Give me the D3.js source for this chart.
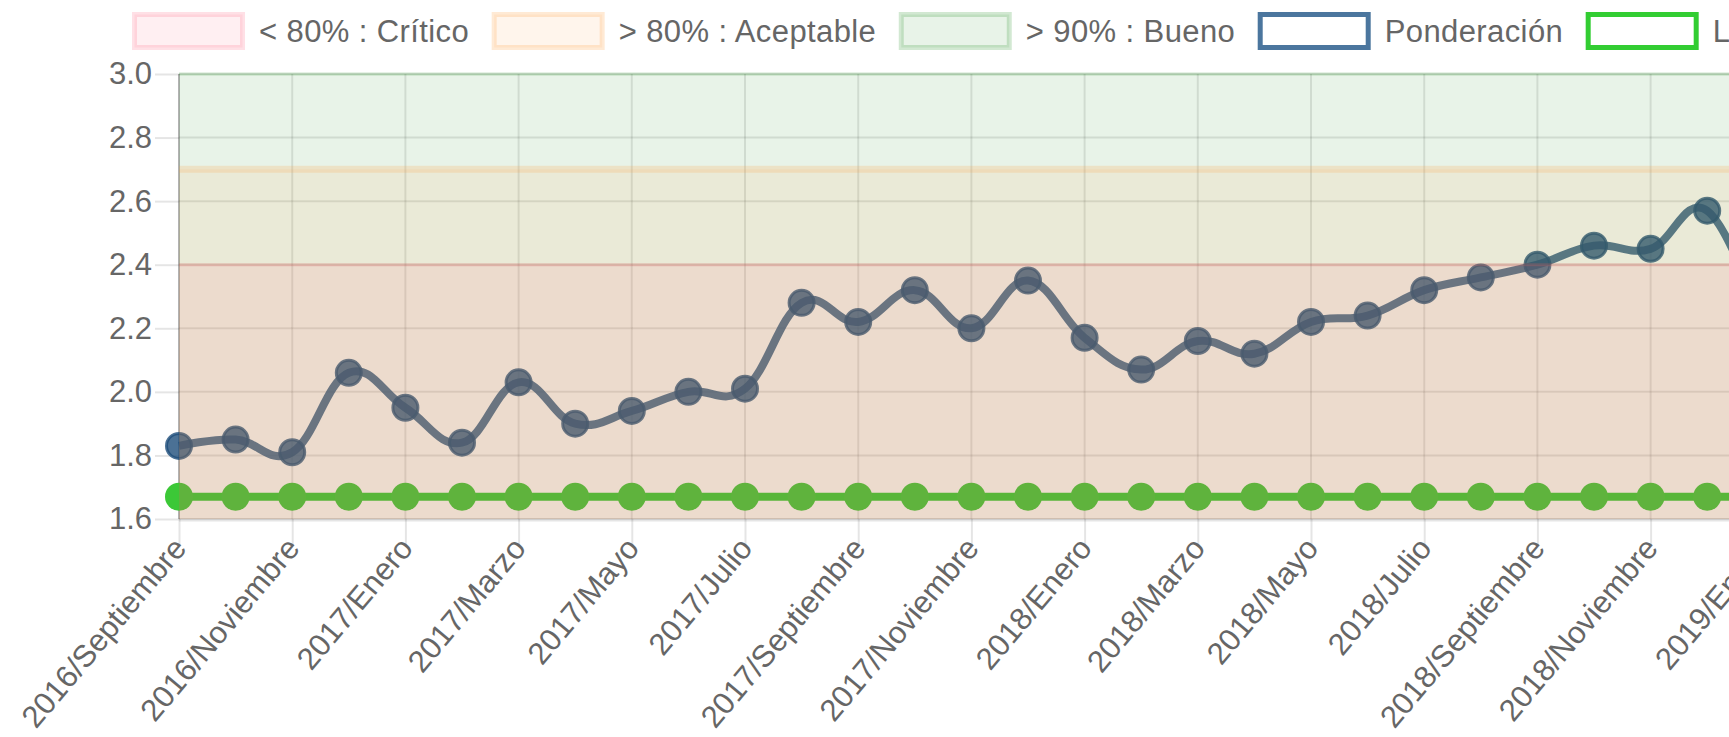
<!DOCTYPE html>
<html>
<head>
<meta charset="utf-8">
<script src="https://cdn.jsdelivr.net/npm/d3@7"></script>
<style>
  html, body { margin: 0; padding: 0; overflow: hidden; background: #fff; }
  svg { display: block; }
</style>
</head>
<body>
<svg id="chart"></svg>
<script>
// Monthly categories (Sep 2016 – Jan 2019)
const categories = [
  "2016/Septiembre", "2016/Octubre", "2016/Noviembre", "2016/Diciembre",
  "2017/Enero", "2017/Febrero", "2017/Marzo", "2017/Abril", "2017/Mayo",
  "2017/Junio", "2017/Julio", "2017/Agosto", "2017/Septiembre", "2017/Octubre",
  "2017/Noviembre", "2017/Diciembre", "2018/Enero", "2018/Febrero", "2018/Marzo",
  "2018/Abril", "2018/Mayo", "2018/Junio", "2018/Julio", "2018/Agosto",
  "2018/Septiembre", "2018/Octubre", "2018/Noviembre", "2018/Diciembre", "2019/Enero"
];

// Weighted score per month
const ponderacion = [
  1.83, 1.85, 1.81, 2.06, 1.95, 1.84, 2.03, 1.90, 1.94, 2.00,
  2.01, 2.28, 2.22, 2.32, 2.20, 2.35, 2.17, 2.07, 2.16, 2.12,
  2.22, 2.24, 2.32, 2.36, 2.40, 2.46, 2.45, 2.57, 2.20
];

// Baseline series
const lineaBase = [
  1.67, 1.67, 1.67, 1.67, 1.67, 1.67, 1.67, 1.67, 1.67, 1.67,
  1.67, 1.67, 1.67, 1.67, 1.67, 1.67, 1.67, 1.67, 1.67, 1.67,
  1.67, 1.67, 1.67, 1.67, 1.67, 1.67, 1.67, 1.67, 1.67
];

// Threshold bands: upper limit of each band (filled down to the axis start)
const bandNames  = ["< 80% : Crítico", "> 80% : Aceptable", "> 90% : Bueno"];
const bandLimits = [2.4, 2.7, 3.0];

const seriesNames = ["Ponderación", "Línea Base"];

const yTicks = [1.6, 1.8, 2.0, 2.2, 2.4, 2.6, 2.8, 3.0];
const xTickLabels = categories.filter((d, i) => i % 2 === 0);

// ---- styling ----
const FONT = '"Liberation Sans", Arial, Helvetica, sans-serif';
const FONT_SIZE = 31;
const TEXT = "#666";
const bandStyle = [
  { fill: "rgba(255,99,132,0.11)", stroke: "rgba(220,90,90,0.25)", width: 3 },
  { fill: "rgba(255,159,64,0.10)", stroke: "rgba(255,159,64,0.20)", width: 7 },
  { fill: "rgba(30,140,30,0.10)",  stroke: "rgba(30,140,30,0.22)",  width: 3 }
];
const ponderColor = "rgba(30,78,122,0.80)";
const baseColor = "rgb(50,205,50)";
const baseDot = "rgb(60,200,55)";

const W = 1900, H = 737;
const plot = { left: 179, top: 74, bottom: 519, step: 56.6 };
plot.right = plot.left + plot.step * (categories.length - 1);

const svg = d3.select("#chart").attr("width", W).attr("height", H);

const x = d3.scalePoint().domain(categories).range([plot.left, plot.right]);
const y = d3.scaleLinear().domain([1.6, 3.0]).range([plot.bottom, plot.top]);

// ---- axes (ticks extend outside the plot) ----
const gY = svg.append("g")
  .attr("transform", `translate(${plot.left},0)`)
  .call(d3.axisLeft(y).tickValues(yTicks).tickSize(24).tickPadding(3)
    .tickFormat(d3.format(".1f")));
gY.select(".domain").remove();
gY.selectAll(".tick line").attr("stroke", "rgba(0,0,0,0.1)").attr("stroke-width", 2);
gY.selectAll(".tick text").attr("fill", TEXT)
  .style("font-family", FONT).style("font-size", FONT_SIZE + "px");

const gX = svg.append("g")
  .attr("transform", `translate(0,${plot.bottom})`)
  .call(d3.axisBottom(x).tickValues(xTickLabels).tickSize(26).tickPadding(0));
gX.select(".domain").remove();
gX.selectAll(".tick line").attr("stroke", "rgba(0,0,0,0.1)").attr("stroke-width", 2);
gX.selectAll(".tick text")
  .attr("fill", TEXT)
  .style("font-family", FONT).style("font-size", FONT_SIZE + "px")
  .attr("x", 0).attr("y", 0)
  .attr("text-anchor", "end")
  .attr("dy", "0.35em")
  .attr("transform", "translate(0,23) rotate(-50)");

// ---- grid inside plot ----
const grid = svg.append("g");
grid.selectAll("line.h").data(yTicks).join("line")
  .attr("x1", plot.left).attr("x2", plot.right)
  .attr("y1", d => y(d)).attr("y2", d => y(d))
  .attr("stroke", "rgba(0,0,0,0.1)").attr("stroke-width", 2);
grid.selectAll("line.v").data(xTickLabels).join("line")
  .attr("x1", d => x(d)).attr("x2", d => x(d))
  .attr("y1", plot.top).attr("y2", plot.bottom)
  .attr("stroke", "rgba(0,0,0,0.1)").attr("stroke-width", 2);
// bottom edge
svg.append("line")
  .attr("x1", plot.left).attr("x2", plot.right)
  .attr("y1", y(1.6) + 1).attr("y2", y(1.6) + 1)
  .attr("stroke", "rgba(0,0,0,0.1)").attr("stroke-width", 3);
// left edge
svg.append("line")
  .attr("x1", plot.left).attr("x2", plot.left)
  .attr("y1", plot.top).attr("y2", plot.bottom)
  .attr("stroke", "rgba(0,0,0,0.22)").attr("stroke-width", 2);

// ---- series lines ----
const curve = d3.curveCardinal.tension(-0.2);
const lineGen = d3.line().x((d, i) => x(categories[i])).y(d => y(d)).curve(curve);

// baseline
svg.append("path").datum(lineaBase)
  .attr("d", lineGen).attr("fill", "none")
  .attr("stroke", baseColor).attr("stroke-width", 8);
svg.append("g").selectAll("circle").data(lineaBase).join("circle")
  .attr("cx", (d, i) => x(categories[i])).attr("cy", d => y(d))
  .attr("r", 14).attr("fill", baseDot);

// weighted score
svg.append("path").datum(ponderacion)
  .attr("d", lineGen).attr("fill", "none")
  .attr("stroke", ponderColor).attr("stroke-width", 8)
  .attr("stroke-linejoin", "round");
svg.append("g").selectAll("circle").data(ponderacion).join("circle")
  .attr("cx", (d, i) => x(categories[i])).attr("cy", d => y(d))
  .attr("r", 12.5).attr("fill", ponderColor)
  .attr("stroke", ponderColor).attr("stroke-width", 3);

// ---- threshold bands drawn over the series ----
const bands = svg.append("g");
[2, 1, 0].forEach(k => {
  const v = bandLimits[k];
  bands.append("rect")
    .attr("x", plot.left).attr("width", plot.right - plot.left)
    .attr("y", y(v)).attr("height", y(1.6) - y(v))
    .attr("fill", bandStyle[k].fill);
  bands.append("line")
    .attr("x1", plot.left).attr("x2", plot.right)
    .attr("y1", y(v)).attr("y2", y(v))
    .attr("stroke", bandStyle[k].stroke).attr("stroke-width", bandStyle[k].width);
});

// ---- legend ----
const legendItems = [
  { label: bandNames[0], fill: "rgba(255,99,132,0.10)", stroke: "rgba(255,99,132,0.20)" },
  { label: bandNames[1], fill: "rgba(255,159,64,0.10)", stroke: "rgba(255,159,64,0.22)" },
  { label: bandNames[2], fill: "rgba(30,140,30,0.10)",  stroke: "rgba(30,140,30,0.20)" },
  { label: seriesNames[0], fill: "#fff", stroke: "rgb(75,118,158)" },
  { label: seriesNames[1], fill: "#fff", stroke: baseColor }
];
const legend = svg.append("g");
const boxW = 108, boxH = 33, boxStroke = 5, gapText = 14, gapItem = 25;
let lx = 134.5;
const ly = 14.5;
legendItems.forEach(item => {
  legend.append("rect")
    .attr("x", lx).attr("y", ly).attr("width", boxW).attr("height", boxH)
    .attr("fill", item.fill).attr("stroke", item.stroke).attr("stroke-width", boxStroke);
  const t = legend.append("text")
    .attr("x", lx + boxW + boxStroke / 2 + gapText)
    .attr("y", ly + boxH / 2)
    .attr("dy", "0.35em")
    .attr("fill", TEXT)
    .style("font-family", FONT).style("font-size", FONT_SIZE + "px")
    .style("letter-spacing", "0.4px")
    .text(item.label);
  lx += boxW + boxStroke / 2 + gapText + t.node().getComputedTextLength() + gapItem;
});
</script>
</body>
</html>
